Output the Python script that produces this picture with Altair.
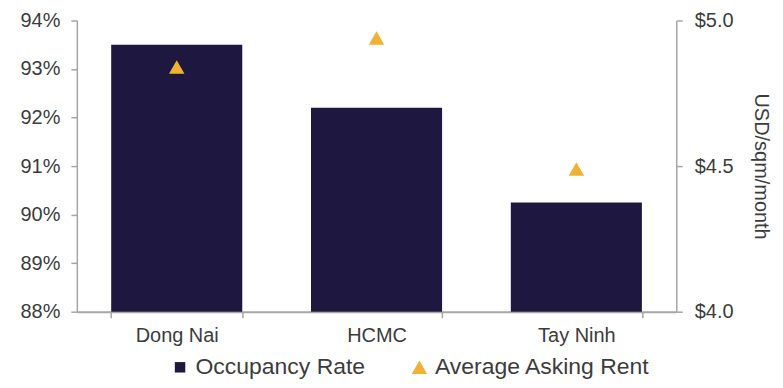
import altair as alt
import pandas as pd

regions = ["Dong Nai", "HCMC", "Tay Ninh"]
occupancy = [0.935, 0.922, 0.9025]
rent = [4.84, 4.94, 4.49]
series = ["Occupancy Rate", "Average Asking Rent"]
pct_ticks = [0.88, 0.89, 0.90, 0.91, 0.92, 0.93, 0.94]
rent_ticks = [4.0, 4.5, 5.0]

df = pd.DataFrame({"region": regions, "occupancy": occupancy, "rent": rent})

NAVY = "#1E1840"
GOLD = "#F0B232"
AXIS = "#A6A6A6"
TEXT = "#3C3C3C"
FONT = "Liberation Sans"
FS = 20

color_scale = alt.Scale(domain=series, range=[NAVY, GOLD])
shape_scale = alt.Scale(domain=series, range=["square", "triangle-up"])
size_scale = alt.Scale(domain=series, range=[110, 240])

legend = alt.Legend(
    orient="none", legendX=92, legendY=336, direction="horizontal", title=None,
    labelFontSize=23, labelFont=FONT, labelColor=TEXT, labelLimit=400,
    symbolStrokeWidth=0, columnPadding=42, labelOffset=4,
)

x_enc = alt.X(
    "region:N", sort=regions, title=None,
    scale=alt.Scale(paddingInner=0.344, paddingOuter=0.172),
    axis=alt.Axis(
        labelAngle=0, tickBand="extent", domainColor=AXIS, domainWidth=2,
        tickColor=AXIS, tickWidth=1.5, tickSize=6, labelFontSize=FS, labelFont=FONT,
        labelColor=TEXT, labelPadding=8,
    ),
)

bars = alt.Chart(df).mark_bar(color=NAVY).encode(
    x=x_enc,
    y=alt.Y(
        "occupancy:Q",
        scale=alt.Scale(domain=[0.88, 0.94], zero=False, nice=False),
        axis=alt.Axis(
            values=pct_ticks, format=".0%", title=None, grid=False,
            domainColor=AXIS, domainWidth=1.5, tickColor=AXIS, tickWidth=1.5, tickSize=6,
            labelFontSize=FS, labelFont=FONT, labelColor=TEXT, labelPadding=11,
        ),
    ),
    y2=alt.datum(0.88),
    color=alt.Color("s:N", scale=color_scale, legend=legend),
).transform_calculate(s="'Occupancy Rate'")

points = alt.Chart(df).mark_point(filled=True, opacity=1).encode(
    x=alt.X("region:N", sort=regions),
    y=alt.Y(
        "rent:Q",
        scale=alt.Scale(domain=[4.0, 5.0], zero=False, nice=False),
        axis=alt.Axis(
            orient="right", values=rent_ticks, format="$.1f", title="USD/sqm/month",
            titleAngle=90, titleFontSize=20, titleFont=FONT, titleColor=TEXT,
            titleFontWeight="normal", titlePadding=18, grid=False,
            domainColor=AXIS, domainWidth=1.5, tickColor=AXIS, tickWidth=1.5, tickSize=6,
            labelFontSize=FS, labelFont=FONT, labelColor=TEXT, labelPadding=12,
        ),
    ),
    color=alt.Color("s:N", scale=color_scale, legend=legend),
    shape=alt.Shape("s:N", scale=shape_scale, legend=legend),
    size=alt.Size("s:N", scale=size_scale, legend=legend),
).transform_calculate(s="'Average Asking Rent'")

chart = (
    alt.layer(bars, points)
    .resolve_scale(y="independent")
    .properties(
        width=601, height=292,
        padding={"left": 69, "top": 12, "right": 99, "bottom": 74},
        autosize=alt.AutoSizeParams(type="none"),
        background="white",
    )
    .configure_view(stroke=None)
)

chart.save("out.html", embed_options={"renderer": "svg", "actions": False})
